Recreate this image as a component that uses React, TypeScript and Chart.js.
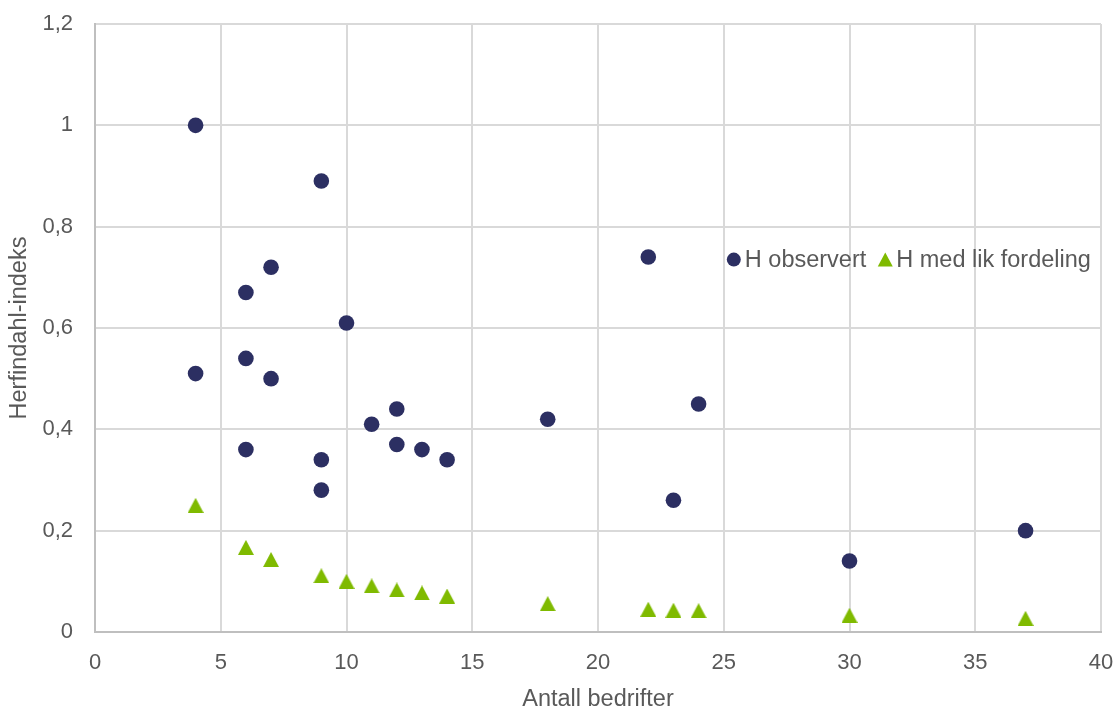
import React, { useEffect, useRef } from "react";
import { Chart, registerables } from "chart.js";

Chart.register(...registerables);

const xObserved = [4, 4, 6, 6, 6, 7, 7, 9, 9, 9, 10, 11, 12, 12, 13, 14, 18, 22, 23, 24, 30, 37];
const yObserved = [1.0, 0.51, 0.67, 0.54, 0.36, 0.72, 0.5, 0.89, 0.34, 0.28, 0.61, 0.41, 0.44, 0.37, 0.36, 0.34, 0.42, 0.74, 0.26, 0.45, 0.14, 0.2];
const xEqual = [4, 6, 7, 9, 10, 11, 12, 13, 14, 18, 22, 23, 24, 30, 37];
const yEqual = [0.25, 0.167, 0.143, 0.111, 0.1, 0.091, 0.083, 0.077, 0.071, 0.056, 0.045, 0.043, 0.042, 0.033, 0.027];

const seriesLabels = ["H observert", "H med lik fordeling"];
const xTitle = "Antall bedrifter";
const yTitle = "Herfindahl-indeks";

const NAVY = "#2C2F62";
const GREEN = "#7FBA00";
const TEXT = "#595959";
const FONT = "'Liberation Sans', Arial, sans-serif";

function makeTriangle(w: number, h: number, color: string): HTMLCanvasElement {
  const c = document.createElement("canvas");
  c.width = w;
  c.height = h;
  const g = c.getContext("2d")!;
  g.fillStyle = color;
  g.beginPath();
  g.moveTo(w / 2, 0);
  g.lineTo(w, h);
  g.lineTo(0, h);
  g.closePath();
  g.fill();
  return c;
}

const legendPlugin = {
  id: "innerLegend",
  afterDraw(chart: any) {
    const ctx = chart.ctx;
    const yScale = chart.scales.y;
    const xScale = chart.scales.x;
    const y = yScale.getPixelForValue(0.735);
    let x = xScale.getPixelForValue(25.4);
    ctx.save();
    ctx.font = `23.5px ${FONT}`;
    ctx.textBaseline = "middle";
    chart.data.datasets.forEach((ds: any) => {
      ctx.save();
      ctx.fillStyle = ds.backgroundColor;
      ctx.beginPath();
      if (ds.pointStyle instanceof HTMLCanvasElement) {
        const w = 15, h = 14;
        ctx.moveTo(x, y - h / 2);
        ctx.lineTo(x + w / 2, y + h / 2);
        ctx.lineTo(x - w / 2, y + h / 2);
        ctx.closePath();
      } else {
        ctx.arc(x, y, 7, 0, Math.PI * 2);
      }
      ctx.fill();
      ctx.restore();
      ctx.fillStyle = TEXT;
      ctx.fillText(ds.label, x + 11, y + 1);
      x += 11 + ctx.measureText(ds.label).width + 19;
    });
    ctx.restore();
  },
};

export default function App() {
  const ref = useRef<HTMLCanvasElement | null>(null);
  useEffect(() => {
    document.body.style.margin = "0";
    const canvas = ref.current!;
    const tri = makeTriangle(16, 15, GREEN);
    const chart = new Chart(canvas, {
      type: "scatter",
      data: {
        datasets: [
          {
            label: seriesLabels[0],
            data: xObserved.map((x, i) => ({ x, y: yObserved[i] })),
            backgroundColor: NAVY,
            borderColor: NAVY,
            pointStyle: "circle",
            pointRadius: 7.8,
            borderWidth: 0,
          },
          {
            label: seriesLabels[1],
            data: xEqual.map((x, i) => ({ x, y: yEqual[i] })),
            backgroundColor: GREEN,
            borderColor: GREEN,
            pointStyle: tri as any,
            pointRadius: 8,
            borderWidth: 0,
          },
        ],
      },
      options: {
        animation: false,
        responsive: false,
        maintainAspectRatio: false,
        layout: { padding: { top: 24, right: 17, left: 0, bottom: 0 } },
        plugins: { legend: { display: false }, tooltip: { enabled: false } },
        scales: {
          x: {
            type: "linear",
            min: 0,
            max: 40,
            ticks: {
              stepSize: 5,
              color: TEXT,
              font: { family: FONT, size: 22 },
              padding: 18,
            },
            grid: { color: "#D9D9D9", lineWidth: 2, drawTicks: false },
            border: { color: "#BFBFBF", width: 2 },
            title: {
              display: true,
              text: xTitle,
              color: TEXT,
              font: { family: FONT, size: 23.5, lineHeight: 0.55 },
              padding: { top: 0, bottom: 0 },
            },
            afterFit(scale: any) {
              scale.height = 74;
              scale.paddingLeft = 0;
              scale.paddingRight = 0;
            },
          },
          y: {
            type: "linear",
            min: 0,
            max: 1.2,
            ticks: {
              stepSize: 0.2,
              color: TEXT,
              font: { family: FONT, size: 22 },
              padding: 22,
              callback: (v: any) => {
                const n = Math.round(Number(v) * 10) / 10;
                return String(n).replace(".", ",");
              },
            },
            grid: { color: "#D9D9D9", lineWidth: 2, drawTicks: false },
            border: { color: "#BFBFBF", width: 2 },
            title: {
              display: true,
              text: yTitle,
              color: TEXT,
              font: { family: FONT, size: 23.5, lineHeight: 1 },
              padding: { top: 8, bottom: 0 },
            },
            afterFit(scale: any) {
              scale.width = 95;
              scale.paddingTop = 0;
              scale.paddingBottom = 0;
            },
          },
        },
      },
      plugins: [legendPlugin],
    });
    return () => chart.destroy();
  }, []);
  return (
    <div style={{ width: 1118, height: 706, background: "#fff" }}>
      <canvas ref={ref} width={1118} height={706} style={{ display: "block" }} />
    </div>
  );
}
